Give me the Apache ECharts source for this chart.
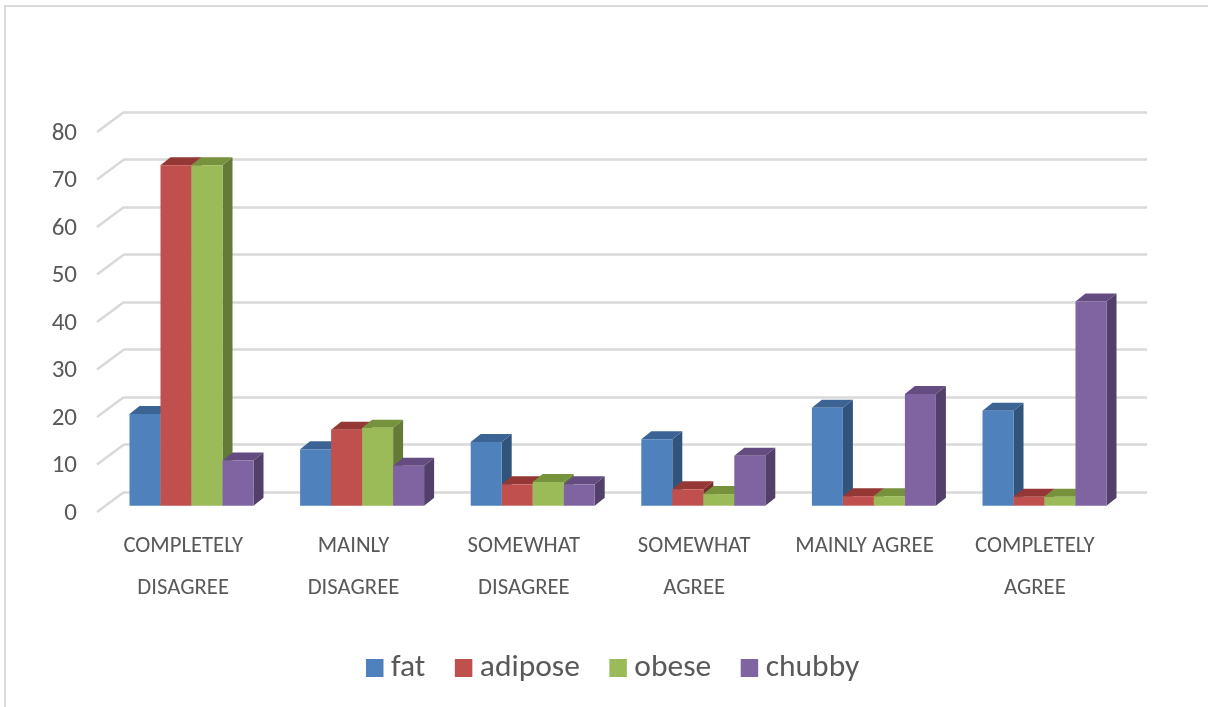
<!DOCTYPE html>
<html>
<head>
<meta charset="utf-8">
<style>html,body{margin:0;padding:0;background:#fff}#c{width:1208px;height:707px}</style>
<script src="https://cdn.jsdelivr.net/npm/echarts@6/dist/echarts.min.js"></script>
</head>
<body>
<div id="c"></div>
<script>
const categories = ['COMPLETELY\nDISAGREE','MAINLY\nDISAGREE','SOMEWHAT\nDISAGREE','SOMEWHAT\nAGREE','MAINLY AGREE','COMPLETELY\nAGREE'];
const fat = [19.3, 11.9, 13.4, 14.0, 20.6, 20.0];
const adipose = [71.7, 16.0, 4.5, 3.45, 2.0, 1.9];
const obese = [71.7, 16.4, 5.0, 2.45, 2.0, 1.9];
const chubby = [9.5, 8.4, 4.5, 10.5, 23.5, 43.0];
const ticks = [0, 10, 20, 30, 40, 50, 60, 70, 80];
const seriesNames = ['fat', 'adipose', 'obese', 'chubby'];
const seriesValues = [fat, adipose, obese, chubby];

const frontColors = ['#4F81BD', '#C0504D', '#9BBB59', '#8064A2'];
const topColors = ['#3B6494', '#953735', '#76923C', '#644C80'];
const sideColors = ['#31547C', '#7A2E2C', '#647B38', '#523F6A'];
const FONT = 'Carlito, Lato, "Open Sans", sans-serif';
const GRID_LINE = '#D9D9D9';

const BAR_W = 31, DEPTH_X = 10, DEPTH_Y = 8;
const WALL_X = 27, WALL_Y = 20;

function barItem(si) {
  return function (params, api) {
    const x = api.value(0), v = api.value(1);
    const base = api.coord([x, 0]);
    const top = api.coord([x, v]);
    const l = base[0] - 2 * BAR_W + si * BAR_W, r = l + BAR_W;
    const b = base[1], t = top[1];
    return {
      type: 'group',
      children: [
        { type: 'polygon', shape: { points: [[r, t], [r + DEPTH_X, t - DEPTH_Y], [r + DEPTH_X, b - DEPTH_Y], [r, b]] }, style: { fill: sideColors[si] } },
        { type: 'polygon', shape: { points: [[l, t], [l + DEPTH_X, t - DEPTH_Y], [r + DEPTH_X, t - DEPTH_Y], [r, t]] }, style: { fill: topColors[si] } },
        { type: 'rect', shape: { x: l, y: t, width: BAR_W, height: b - t }, style: { fill: frontColors[si] } }
      ]
    };
  };
}

const option = {
  backgroundColor: '#fff',
  animation: false,
  textStyle: { fontFamily: FONT },
  graphic: [
    { type: 'rect', silent: true, shape: { x: 4, y: 5, width: 1204, height: 2 }, style: { fill: GRID_LINE } },
    { type: 'rect', silent: true, shape: { x: 4, y: 5, width: 2, height: 702 }, style: { fill: GRID_LINE } }
  ],
  legend: {
    data: seriesNames,
    left: 366, top: 652, padding: 0,
    itemWidth: 17.5, itemHeight: 18, itemGap: 29.5,
    icon: 'rect',
    textStyle: { fontFamily: FONT, fontSize: 31.5, color: '#595959', padding: [0, 0, 0, 2.5] }
  },
  grid: [
    { left: 124, top: 112, width: 1023, height: 380 },
    { left: 106.2, top: 125.7, width: 1023.6, height: 380 },
    { left: 98, top: 133.5, width: 1022, height: 380 }
  ],
  xAxis: [
    { gridIndex: 0, type: 'category', data: categories, show: false },
    { gridIndex: 1, type: 'category', data: categories, show: false },
    { gridIndex: 2, type: 'category', data: categories,
      axisLine: { show: false }, axisTick: { show: false },
      axisLabel: { interval: 0, margin: 11.5, lineHeight: 42, fontSize: 22.7, color: '#595959', fontFamily: FONT, verticalAlign: 'top' } }
  ],
  yAxis: [
    { gridIndex: 0, type: 'value', min: 0, max: 80, interval: 10,
      axisLine: { show: false }, axisTick: { show: false }, axisLabel: { show: false },
      splitLine: { lineStyle: { color: GRID_LINE, width: 2.5 } } },
    { gridIndex: 1, type: 'value', min: 0, max: 80, interval: 10, show: false, splitLine: { show: false } },
    { gridIndex: 2, type: 'value', min: 0, max: 80, interval: 10,
      axisLine: { show: false }, axisTick: { show: false }, splitLine: { show: false },
      axisLabel: { margin: 21, fontSize: 25, color: '#595959', fontFamily: FONT } }
  ],
  series: [
    {
      type: 'custom', name: 'wall', xAxisIndex: 2, yAxisIndex: 2, z: 1, silent: true, clip: false,
      data: ticks.map(t => [0, t]),
      encode: { x: 0, y: 1 },
      renderItem: function (params, api) {
        const p = api.coord([0, api.value(1)]);
        const x0 = p[0] - api.size([1, 0])[0] / 2 - 1;
        const y0 = p[1] - 1.5;
        return { type: 'line', shape: { x1: x0, y1: y0, x2: x0 + WALL_X, y2: y0 - WALL_Y }, style: { stroke: GRID_LINE, lineWidth: 2.5 } };
      }
    }
  ].concat(seriesNames.map((name, si) => ({
    type: 'custom', name, xAxisIndex: 1, yAxisIndex: 1, z: 2 + si, clip: false,
    itemStyle: { color: frontColors[si] },
    data: seriesValues[si].map((v, i) => [i, v]),
    encode: { x: 0, y: 1 },
    renderItem: barItem(si)
  })))
};

echarts.init(document.getElementById('c'), null, { renderer: 'canvas' }).setOption(option);
</script>
</body>
</html>
